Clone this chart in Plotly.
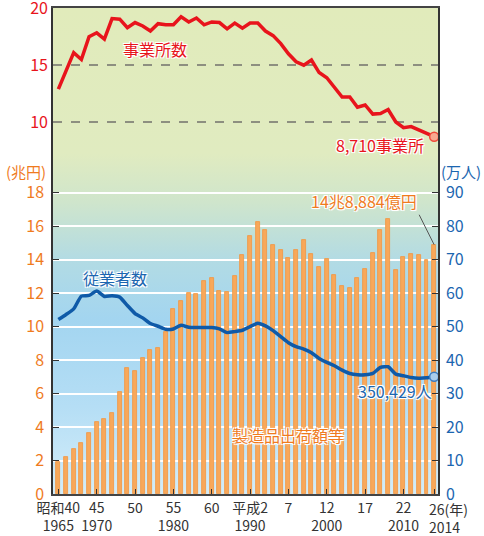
import base64
import plotly.graph_objects as go

# データ（1965〜2014年）
years = list(range(1965, 2015))

# 事業所数（千事業所）
establishments = [
    12.9, 14.5, 16.1, 15.5, 17.5, 17.85, 17.3, 19.1, 19.05, 18.3,
    18.75, 18.45, 18.0, 18.65, 18.55, 18.55, 19.25, 18.8, 19.15, 18.55,
    18.8, 18.75, 18.2, 18.7, 18.25, 18.7, 18.7, 18.0, 17.6, 16.9,
    16.0, 15.3, 15.0, 15.45, 14.35, 13.9, 13.0, 12.2, 12.2, 11.3,
    11.5, 10.7, 10.75, 11.1, 10.0, 9.5, 9.6, 9.3, 9.0, 8.71,
]

# 製造品出荷額等（兆円）
shipments = [
    1.9, 2.2, 2.7, 3.05, 3.65, 4.3, 4.5, 4.85, 6.1, 7.55,
    7.35, 8.1, 8.6, 8.75, 9.7, 11.05, 11.55, 12.0, 11.95, 12.75,
    12.9, 12.1, 12.05, 13.0, 14.25, 15.4, 16.25, 15.75, 14.85, 14.6,
    14.1, 14.55, 15.15, 14.35, 13.55, 14.05, 13.1, 12.45, 12.3, 12.9,
    13.45, 14.4, 15.75, 16.45, 13.4, 14.15, 14.35, 14.3, 14.0, 14.8884,
]

# 従業者数（万人）
employees = [
    52.1, 53.6, 55.3, 59.1, 59.3, 60.6, 59.0, 59.2, 58.8, 56.3,
    53.9, 52.6, 50.9, 50.1, 49.2, 49.3, 50.4, 49.8, 49.7, 49.7,
    49.7, 49.3, 48.2, 48.5, 48.9, 50.0, 51.0, 50.2, 48.8, 47.0,
    45.2, 44.0, 43.3, 42.2, 40.5, 39.3, 38.3, 37.0, 36.0, 35.6,
    35.6, 36.0, 37.8, 38.0, 35.8, 35.3, 34.8, 34.6, 34.7, 35.04,
]

x_tickvals = [1965, 1970, 1975, 1980, 1985, 1990, 1995, 2000, 2005, 2010, 2014]
x_ticktext = ["昭和40<br>1965", "45<br>1970", "50", "55<br>1980", "60",
              "平成2<br>1990", "7", "12<br>2000", "17", "22<br>2010", ""]

left_ticks = [0, 2, 4, 6, 8, 10, 12, 14, 16, 18]
right_ticks = [0, 10, 20, 30, 40, 50, 60, 70, 80, 90]
top_ticks = [10, 15, 20]

RED = "#e8141c"
ORANGE = "#ef7b1e"
BLUE = "#0f5aa8"
BLUE_TXT = "#1b66b0"
FONT = "Noto Sans CJK JP"
HALO = "-1px -1px 0 #fff, 1px -1px 0 #fff, -1px 1px 0 #fff, 1px 1px 0 #fff, 0 0 3px #fff"

# 背景グラデーション
svg = (
    "<svg xmlns='http://www.w3.org/2000/svg' width='10' height='100' preserveAspectRatio='none'>"
    "<defs><linearGradient id='g' x1='0' y1='0' x2='0' y2='1'>"
    "<stop offset='0' stop-color='#e1ebbb'/>"
    "<stop offset='0.30' stop-color='#e0ebc0'/>"
    "<stop offset='0.40' stop-color='#cfe5cc'/>"
    "<stop offset='0.52' stop-color='#b2dbe4'/>"
    "<stop offset='0.64' stop-color='#a3d5f0'/>"
    "<stop offset='0.82' stop-color='#b5def5'/>"
    "<stop offset='1' stop-color='#d3edf9'/>"
    "</linearGradient></defs>"
    "<rect width='10' height='100' fill='url(#g)'/></svg>"
)
bg_src = "data:image/svg+xml;base64," + base64.b64encode(svg.encode()).decode()

fig = go.Figure()

fig.add_trace(go.Bar(
    x=years, y=shipments, width=0.52,
    marker=dict(color="#f8a85a", line=dict(color="#f39640", width=0.8)),
    yaxis="y", hoverinfo="skip",
))
fig.add_trace(go.Scatter(
    x=years, y=employees, mode="lines", yaxis="y2",
    line=dict(color=BLUE, width=3.5, shape="spline", smoothing=0.5),
))
fig.add_trace(go.Scatter(
    x=years[-1:], y=employees[-1:], mode="markers", yaxis="y2",
    marker=dict(size=9, color="#a9cdec", line=dict(color="#3d7cc0", width=1.5)),
))
fig.add_trace(go.Scatter(
    x=years, y=establishments, mode="lines", yaxis="y3",
    line=dict(color=RED, width=3.5),
))
fig.add_trace(go.Scatter(
    x=years[-1:], y=establishments[-1:], mode="markers", yaxis="y3",
    marker=dict(size=9, color="#f7a88f", line=dict(color="#ee4a3a", width=1.5)),
))

ann = [
    dict(text="事業所数", x=1977.6, y=16.4, xref="x", yref="y3", showarrow=False,
         font=dict(color=RED, size=16, shadow=HALO)),
    dict(text="8,710事業所", x=years[-1], y=8.0, xref="x", yref="y3", showarrow=False,
         xanchor="right", xshift=-8, font=dict(color=RED, size=16, shadow=HALO)),
    dict(text="(兆円)", x=-0.127, y=0.663, xref="paper", yref="paper", showarrow=False,
         xanchor="left", font=dict(color=ORANGE, size=15)),
    dict(text="(万人)", x=1.117, y=0.663, xref="paper", yref="paper", showarrow=False,
         xanchor="right", font=dict(color=BLUE_TXT, size=15)),
    dict(text="14兆8,884億円", x=years[-1], y=shipments[-1], xref="x", yref="y",
         showarrow=True, arrowhead=0, arrowwidth=1, arrowcolor="#555",
         ax=-15, ay=-30, xanchor="right", yanchor="bottom",
         font=dict(color=ORANGE, size=16, shadow=HALO)),
    dict(text="従業者数", x=1972.4, y=64.5, xref="x", yref="y2", showarrow=False,
         font=dict(color=BLUE_TXT, size=16, shadow=HALO)),
    dict(text="350,429人", x=years[-1], y=30.7, xref="x", yref="y2", showarrow=False,
         xanchor="right", font=dict(color=BLUE_TXT, size=16, shadow=HALO)),
    dict(text="製造品出荷額等", x=1994.9, y=3.5, xref="x", yref="y", showarrow=False,
         font=dict(color=ORANGE, size=16, shadow=HALO)),
    dict(text="26(年)<br>2014", x=years[-1], y=0, xref="x", yref="paper", showarrow=False,
         xanchor="left", yanchor="top", xshift=-7, yshift=-3, align="left",
         font=dict(color="#333", size=14)),
]

fig.update_layout(
    width=484, height=536,
    margin=dict(l=53, r=46, t=8, b=42),
    paper_bgcolor="white", plot_bgcolor="rgba(0,0,0,0)",
    showlegend=False, bargap=0,
    font=dict(family=FONT, color="#333"),
    annotations=ann,
    images=[dict(source=bg_src, xref="paper", yref="paper", x=0, y=1, sizex=1, sizey=1,
                 sizing="stretch", layer="below")],
    xaxis=dict(
        range=[1964.3, 2014.5], tickvals=x_tickvals, ticktext=x_ticktext, tickangle=0,
        ticks="inside", ticklen=5, tickcolor="#333", showgrid=False, zeroline=False,
        showline=True, linecolor="#444", linewidth=1.5, mirror=True, automargin=False,
        tickfont=dict(size=14, color="#333"),
    ),
    yaxis=dict(
        range=[0, 29.03], tickvals=left_ticks, ticks="inside", ticklen=6, tickcolor="#333",
        showgrid=True, gridcolor="white", gridwidth=1.5, zeroline=False,
        showline=True, linecolor="#333", linewidth=1.5, automargin=False,
        tickfont=dict(size=16, color=ORANGE), ticklabelstandoff=4,
    ),
    yaxis2=dict(
        range=[0, 145.15], tickvals=right_ticks, overlaying="y", side="right", anchor="x",
        ticks="inside", ticklen=6, tickcolor="#333", showgrid=False, zeroline=False,
        showline=True, linecolor="#333", linewidth=1.5, automargin=False,
        tickfont=dict(size=16, color=BLUE_TXT), ticklabelstandoff=3,
    ),
    yaxis3=dict(
        range=[-22.72, 20.03], tickvals=top_ticks, overlaying="y", side="left", anchor="x",
        ticks="", showgrid=True, gridcolor="#8d8f80", gridwidth=1.5, griddash="dash",
        zeroline=False, showline=False, automargin=False, ticklabeloverflow="allow",
        tickfont=dict(size=16, color=RED), ticklabelstandoff=4,
    ),
)

# ページ余白をなくして図を左上に合わせる
fig.write_html("out.html", config={"displayModeBar": False},
               post_script="document.body.style.margin='0';")
